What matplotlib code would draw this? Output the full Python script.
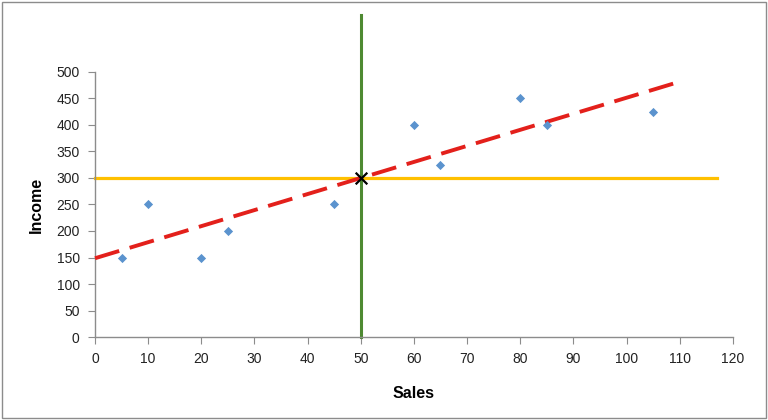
import numpy as np
import matplotlib
matplotlib.use("Agg")
from matplotlib import pyplot as plt
from matplotlib.patches import Rectangle

sales = [5, 10, 20, 25, 45, 60, 65, 80, 85, 105]
income = [150, 250, 150, 200, 250, 400, 325, 450, 400, 425]
x_ticks = list(range(0, 121, 10))
y_ticks = list(range(0, 501, 50))

mean_x = np.mean(sales)
mean_y = np.mean(income)
slope, intercept = np.polyfit(sales, income, 1)

plt.rcParams['font.family'] = ['Liberation Sans', 'DejaVu Sans']

fig = plt.figure(figsize=(7.68, 4.2), dpi=100)
ax = fig.add_axes([0.1237, 0.1976, 0.8305, 0.631])

# mean of income (horizontal) and mean of sales (vertical)
ax.plot([0, 117], [mean_y, mean_y], color="#FFC000", lw=2.3, zorder=2, clip_on=False)
ax.plot([mean_x, mean_x], [0, 607], color="#4E8A32", lw=2.2, zorder=2, clip_on=False)

# least squares line
fit_x = np.array([0, 110])
ax.plot(fit_x, slope * fit_x + intercept, color="#E3201B", lw=2.8,
        dashes=(6.5, 2.8), zorder=3, clip_on=False)

ax.scatter(sales, income, marker="D", s=22, color="#5B93CE", zorder=4, linewidths=0)
ax.scatter([mean_x], [mean_y], marker="x", s=70, color="black", linewidths=1.6, zorder=5)

ax.set_xlim(0, 120)
ax.set_ylim(0, 500)
ax.set_xticks(x_ticks)
ax.set_yticks(y_ticks)
for side in ["top", "right"]:
    ax.spines[side].set_visible(False)
for side in ["left", "bottom"]:
    ax.spines[side].set_color("#8C8C8C")
    ax.spines[side].set_linewidth(1)
ax.tick_params(direction="out", length=5, color="#8C8C8C", labelsize=10,
               labelcolor="#222222", pad=6)

ax.set_xlabel("Sales", fontsize=11.5, fontweight="bold", labelpad=14)
ax.set_ylabel("Income", fontsize=11.5, fontweight="bold", labelpad=9)

# thin frame round the whole picture
fig.patches.append(Rectangle((0.003, 0.005), 0.994, 0.99, transform=fig.transFigure,
                             fill=False, edgecolor="#8C8C8C", lw=1))

fig.savefig("out.png", dpi=100)
